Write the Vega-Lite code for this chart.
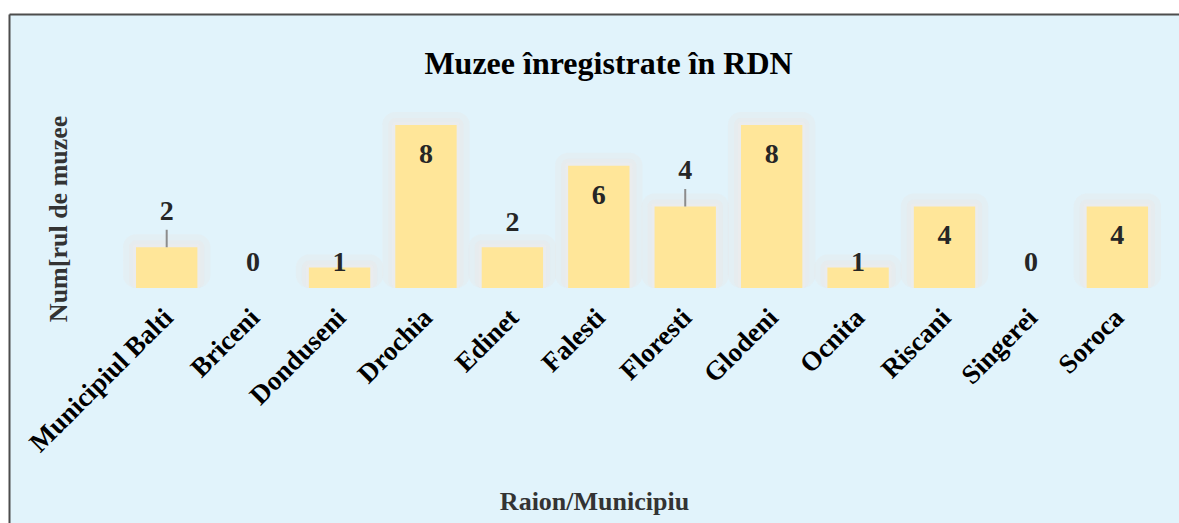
{
  "$schema": "https://vega.github.io/schema/vega-lite/v6.json",
  "width": 1170,
  "height": 509,
  "autosize": {"type": "none"},
  "padding": {"left": 9, "top": 14, "right": 0, "bottom": 0},
  "background": "#ffffff",
  "view": {"fill": "#e1f3fb", "stroke": null},
  "title": {
    "text": "Muzee înregistrate în RDN",
    "font": "Liberation Serif",
    "fontSize": 32,
    "fontWeight": "bold",
    "color": "#000000",
    "anchor": "middle",
    "frame": "group",
    "baseline": "alphabetic",
    "offset": -61,
    "dx": 14.5,
    "dy": 30.5
  },
  "data": {
    "values": [
      {"raion": "Municipiul Balti", "muzee": 2},
      {"raion": "Briceni", "muzee": 0},
      {"raion": "Donduseni", "muzee": 1},
      {"raion": "Drochia", "muzee": 8},
      {"raion": "Edinet", "muzee": 2},
      {"raion": "Falesti", "muzee": 6},
      {"raion": "Floresti", "muzee": 4},
      {"raion": "Glodeni", "muzee": 8},
      {"raion": "Ocnita", "muzee": 1},
      {"raion": "Riscani", "muzee": 4},
      {"raion": "Singerei", "muzee": 0},
      {"raion": "Soroca", "muzee": 4}
    ]
  },
  "resolve": {"axis": {"x": "independent", "y": "independent"}},
  "layer": [
    {
      "transform": [{"filter": "datum.muzee > 0"}],
      "mark": {"type": "bar", "fillOpacity": 0, "stroke": "#e9e9e9", "strokeWidth": 26, "strokeOpacity": 0.35, "strokeJoin": "round", "y2Offset": -13},
      "encoding": {
        "x": {"field": "raion", "type": "nominal", "sort": null,
              "scale": {"type": "band", "domain": ["Municipiul Balti", "Briceni", "Donduseni", "Drochia", "Edinet", "Falesti", "Floresti", "Glodeni", "Ocnita", "Riscani", "Singerei", "Soroca"], "paddingInner": 0.29, "paddingOuter": 0.914, "align": 0.804},
              "axis": {"orient": "top", "domain": true, "domainColor": "#4d4d4d", "domainWidth": 2, "labels": false, "ticks": false, "grid": false, "title": null}},
        "y": {"field": "muzee", "type": "quantitative", "scale": {"domain": [-11.534, 13.448], "nice": false, "zero": false},
              "axis": {"orient": "left", "domain": true, "domainColor": "#4d4d4d", "domainWidth": 2, "labels": false, "ticks": false, "grid": false,
                       "title": "Num[rul de muzee", "titleFont": "Liberation Serif", "titleFontSize": 26, "titleFontWeight": "bold", "titleColor": "#333333",
                       "titleX": 57.3, "titleY": 204.4, "titleAngle": 270, "titleAlign": "center", "titleBaseline": "alphabetic"}},
        "y2": {"datum": 0}
      }
    },
    {
      "transform": [{"filter": "datum.muzee > 0"}],
      "mark": {"type": "bar", "fillOpacity": 0, "stroke": "#e9e9e9", "strokeWidth": 14, "strokeOpacity": 0.45, "strokeJoin": "round", "y2Offset": -7},
      "encoding": {
        "x": {"field": "raion", "type": "nominal", "sort": null, "axis": null},
        "y": {"field": "muzee", "type": "quantitative", "axis": null},
        "y2": {"datum": 0}
      }
    },
    {
      "transform": [{"filter": "datum.muzee > 0"}],
      "mark": {"type": "bar", "fillOpacity": 0, "stroke": "#ececec", "strokeWidth": 6, "strokeOpacity": 0.6, "strokeJoin": "round", "y2Offset": -3},
      "encoding": {
        "x": {"field": "raion", "type": "nominal", "sort": null, "axis": null},
        "y": {"field": "muzee", "type": "quantitative", "axis": null},
        "y2": {"datum": 0}
      }
    },
    {
      "mark": {"type": "bar", "fill": "#ffe699"},
      "encoding": {
        "x": {"field": "raion", "type": "nominal", "sort": null,
              "axis": {"orient": "bottom", "offset": -235, "domain": false, "ticks": false, "tickSize": 0, "grid": false,
                       "labelAngle": -45, "labelFont": "Liberation Serif", "labelFontSize": 27, "labelFontWeight": "bold", "labelColor": "#000000", "labelPadding": 16, "labelOffset": -7, "labelOverlap": false, "labelLimit": 0,
                       "title": "Raion/Municipiu", "titleFont": "Liberation Serif", "titleFontSize": 26, "titleFontWeight": "bold", "titleColor": "#333333",
                       "titleX": 585, "titleY": 221, "titleAlign": "center", "titleBaseline": "alphabetic", "titleAngle": 0}},
        "y": {"field": "muzee", "type": "quantitative", "axis": null},
        "y2": {"datum": 0}
      }
    },
    {
      "transform": [{"filter": {"field": "raion", "oneOf": ["Municipiul Balti", "Floresti"]}}],
      "mark": {"type": "rule", "stroke": "#8c8c8c", "strokeWidth": 2, "y2Offset": -17.5},
      "encoding": {
        "x": {"field": "raion", "type": "nominal", "sort": null, "axis": null},
        "y": {"field": "muzee", "type": "quantitative", "axis": null},
        "y2": {"field": "muzee"}
      }
    },
    {
      "transform": [{"filter": {"field": "raion", "oneOf": ["Drochia", "Falesti", "Glodeni", "Riscani", "Soroca"]}}],
      "mark": {"type": "text", "font": "Liberation Serif", "fontSize": 28, "fontWeight": "bold", "color": "#262626", "baseline": "alphabetic", "align": "center", "dy": 38},
      "encoding": {
        "x": {"field": "raion", "type": "nominal", "sort": null, "axis": null},
        "y": {"field": "muzee", "type": "quantitative", "axis": null},
        "text": {"field": "muzee", "type": "quantitative"}
      }
    },
    {
      "transform": [{"filter": {"field": "raion", "oneOf": ["Municipiul Balti", "Floresti"]}}],
      "mark": {"type": "text", "font": "Liberation Serif", "fontSize": 28, "fontWeight": "bold", "color": "#262626", "baseline": "alphabetic", "align": "center", "dy": -27},
      "encoding": {
        "x": {"field": "raion", "type": "nominal", "sort": null, "axis": null},
        "y": {"field": "muzee", "type": "quantitative", "axis": null},
        "text": {"field": "muzee", "type": "quantitative"}
      }
    },
    {
      "transform": [{"filter": {"field": "raion", "oneOf": ["Edinet", "Briceni", "Singerei"]}}],
      "mark": {"type": "text", "font": "Liberation Serif", "fontSize": 28, "fontWeight": "bold", "color": "#262626", "baseline": "alphabetic", "align": "center", "dy": -16.5},
      "encoding": {
        "x": {"field": "raion", "type": "nominal", "sort": null, "axis": null},
        "y": {"field": "muzee", "type": "quantitative", "axis": null},
        "text": {"field": "muzee", "type": "quantitative"}
      }
    },
    {
      "transform": [{"filter": {"field": "raion", "oneOf": ["Donduseni", "Ocnita"]}}],
      "mark": {"type": "text", "font": "Liberation Serif", "fontSize": 28, "fontWeight": "bold", "color": "#262626", "baseline": "alphabetic", "align": "center", "dy": 3.4},
      "encoding": {
        "x": {"field": "raion", "type": "nominal", "sort": null, "axis": null},
        "y": {"field": "muzee", "type": "quantitative", "axis": null},
        "text": {"field": "muzee", "type": "quantitative"}
      }
    }
  ]
}
